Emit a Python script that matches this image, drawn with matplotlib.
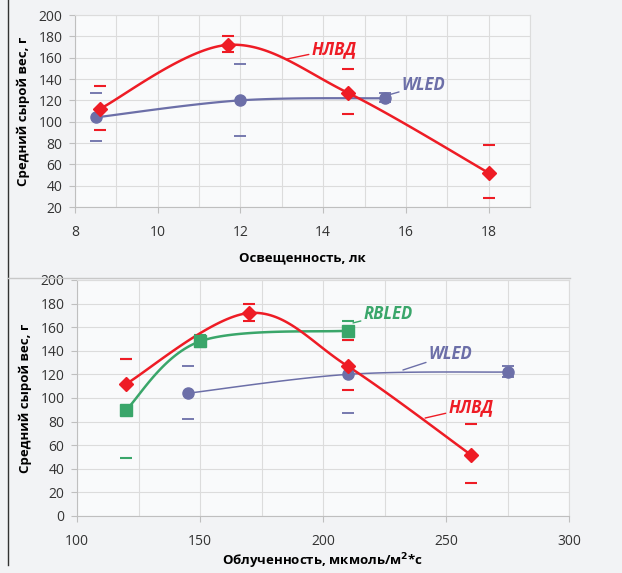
import numpy as np
import matplotlib.pyplot as plt
from matplotlib.lines import Line2D
from matplotlib.ticker import MultipleLocator

plt.rcParams['font.family'] = ['Open Sans', 'DejaVu Sans']

# top panel: illuminance, lx
lux_hlvd = [8.6, 11.7, 14.6, 18.0]
w_hlvd = [112, 172, 127, 52]
hi_hlvd = [133, 180, 149, 78]
lo_hlvd = [92, 165, 107, 28]

lux_wled = [8.5, 12.0, 15.5]
w_wled = [104, 120, 122]
hi_wled = [127, 154, 127]
lo_wled = [82, 87, 118]

# bottom panel: irradiance, umol/m2*s
irr_hlvd = [120, 170, 210, 260]
irr_rbled = [120, 150, 210]
w_rbled = [90, 148, 157]
hi_rbled = [133, 153, 165]
lo_rbled = [49, 143, 149]
irr_wled = [145, 210, 275]

RED = '#ee1c25'
BLUE = '#6c6fa8'
GREEN = '#3aa66a'
BG = '#f2f3f5'


def smooth(x, y, n=40):
    # excel-like smoothed line (bezier through the points)
    x = np.asarray(x, float)
    y = np.asarray(y, float)
    px = np.r_[x[0], x, x[-1]]
    py = np.r_[y[0], y, y[-1]]
    xs, ys = [], []
    t = np.linspace(0, 1, n)
    for i in range(1, len(px) - 2):
        p0 = np.array([px[i], py[i]])
        p3 = np.array([px[i + 1], py[i + 1]])
        c1 = p0 + (np.array([px[i + 1], py[i + 1]]) - np.array([px[i - 1], py[i - 1]])) / 6
        c2 = p3 - (np.array([px[i + 2], py[i + 2]]) - np.array([px[i], py[i]])) / 6
        b = ((1 - t) ** 3)[:, None] * p0 + (3 * (1 - t) ** 2 * t)[:, None] * c1 \
            + (3 * (1 - t) * t ** 2)[:, None] * c2 + (t ** 3)[:, None] * p3
        xs.extend(b[:, 0])
        ys.extend(b[:, 1])
    return xs, ys


def series(ax, x, y, hi, lo, color, marker, ms, lw, cw=1.5):
    ax.plot(x, hi, ls='none', marker='_', ms=9, mew=cw, color=color, zorder=3)
    ax.plot(x, lo, ls='none', marker='_', ms=9, mew=cw, color=color, zorder=3)
    sx, sy = smooth(x, y)
    ax.plot(sx, sy, color=color, lw=lw, zorder=4)
    ax.plot(x, y, ls='none', marker=marker, ms=ms, color=color, zorder=5)


def style(ax):
    ax.set_facecolor('#f9fafb')
    ax.grid(True, which='both', axis='x', color='#dcdcdc', lw=0.8)
    ax.grid(True, which='major', axis='y', color='#dcdcdc', lw=0.8)
    ax.set_axisbelow(True)
    for s in ax.spines.values():
        s.set_color('#dcdcdc')
    ax.spines['left'].set_color('#bfbfbf')
    ax.spines['bottom'].set_color('#bfbfbf')
    ax.tick_params(which='major', length=4, color='#bfbfbf', labelsize=10, labelcolor='#333333')
    ax.tick_params(axis='x', which='major', pad=9)
    ax.tick_params(axis='y', which='major', pad=5)
    ax.tick_params(which='minor', length=0)


fig = plt.figure(figsize=(6.22, 5.73), dpi=100)
fig.patch.set_facecolor(BG)

# ---- top ----
ax1 = fig.add_axes([0.1206, 0.6387, 0.7315, 0.3351])
style(ax1)
series(ax1, lux_wled, w_wled, hi_wled, lo_wled, BLUE, 'o', 8, 1.6, cw=1.3)
series(ax1, lux_hlvd, w_hlvd, hi_hlvd, lo_hlvd, RED, 'D', 7, 1.8)
ax1.set_xlim(8, 19)
ax1.set_ylim(20, 200)
ax1.set_xticks([8, 10, 12, 14, 16, 18])
ax1.xaxis.set_minor_locator(MultipleLocator(1))
ax1.set_yticks(range(20, 201, 20))
ax1.set_xlabel('Освещенность, лк', fontsize=9.5, fontweight='bold', labelpad=8)
ax1.set_ylabel('Средний сырой вес, г', fontsize=9.5, fontweight='bold', labelpad=6)
ax1.annotate('НЛВД', xy=(13.13, 158.8), xytext=(13.72, 168), color=RED, fontsize=12,
             fontweight='bold', fontstyle='italic', va='center',
             arrowprops=dict(arrowstyle='-', color=RED, lw=1, shrinkA=0, shrinkB=0))
ax1.annotate('WLED', xy=(15.57, 125), xytext=(15.9, 134.4), color=BLUE, fontsize=12,
             fontweight='bold', fontstyle='italic', va='center',
             arrowprops=dict(arrowstyle='-', color=BLUE, lw=1, shrinkA=0, shrinkB=0))

# ---- bottom ----
ax2 = fig.add_axes([0.1238, 0.0995, 0.791, 0.4119])
style(ax2)
series(ax2, irr_wled, w_wled, hi_wled, lo_wled, BLUE, 'o', 8, 1.1, cw=1.3)
series(ax2, irr_rbled, w_rbled, hi_rbled, lo_rbled, GREEN, 's', 8, 1.8)
series(ax2, irr_hlvd, w_hlvd, hi_hlvd, lo_hlvd, RED, 'D', 7, 1.8)
ax2.set_xlim(100, 300)
ax2.set_ylim(0, 200)
ax2.set_xticks([100, 150, 200, 250, 300])
ax2.xaxis.set_minor_locator(MultipleLocator(25))
ax2.set_yticks(range(0, 201, 20))
ax2.set_xlabel('Облученность, мкмоль/м$^{\\mathbf{2}}$*с', fontsize=9.5, fontweight='bold', labelpad=2)
ax2.set_ylabel('Средний сырой вес, г', fontsize=9.5, fontweight='bold', labelpad=6)
ax2.annotate('RBLED', xy=(212.2, 163.6), xytext=(216.5, 171), color=GREEN, fontsize=12,
             fontweight='bold', fontstyle='italic', va='center',
             arrowprops=dict(arrowstyle='-', color=GREEN, lw=1, shrinkA=0, shrinkB=0))
ax2.annotate('WLED', xy=(232.5, 123.7), xytext=(243, 137), color=BLUE, fontsize=12,
             fontweight='bold', fontstyle='italic', va='center',
             arrowprops=dict(arrowstyle='-', color=BLUE, lw=1, shrinkA=0, shrinkB=0))
ax2.annotate('НЛВД', xy=(241.5, 83), xytext=(251, 92), color=RED, fontsize=12,
             fontweight='bold', fontstyle='italic', va='center',
             arrowprops=dict(arrowstyle='-', color=RED, lw=1, shrinkA=0, shrinkB=0))

# frame lines from the source page
fig.add_artist(Line2D([8 / 622, 8 / 622], [1, 1 - 565 / 573], color='#333333', lw=1))
fig.add_artist(Line2D([8 / 622, 570 / 622], [1 - 278 / 573, 1 - 278 / 573], color='#c8c8c8', lw=1))

fig.savefig('out.png', dpi=100, facecolor=BG)
